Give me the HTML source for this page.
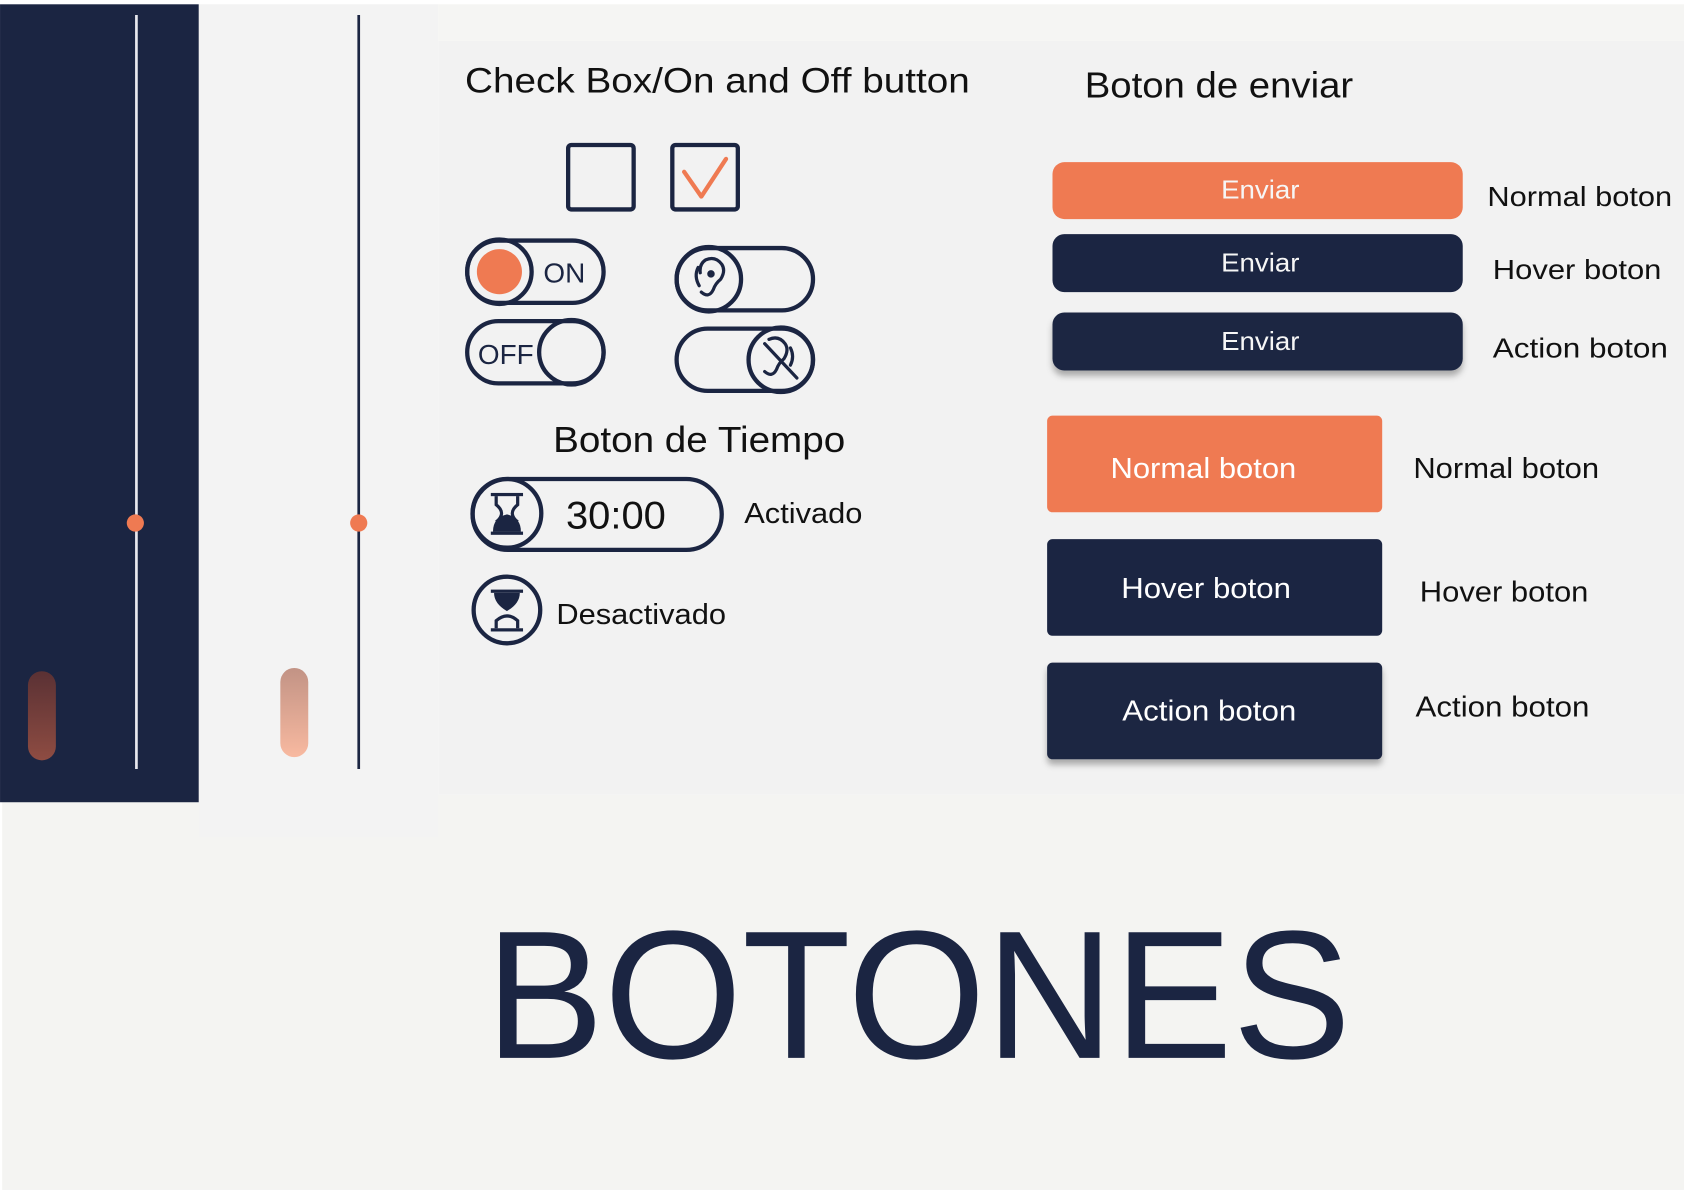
<!DOCTYPE html>
<html><head><meta charset="utf-8"><style>
html,body{margin:0;padding:0;background:#fff;width:1684px;height:1191px;overflow:hidden}
svg{display:block}
text{font-family:"Liberation Sans","DejaVu Sans",sans-serif}
</style></head><body>
<svg width="1684" height="1191" viewBox="0 0 1568 1109" xmlns="http://www.w3.org/2000/svg">
<defs>
<linearGradient id="g1" x1="0" y1="0" x2="0" y2="1"><stop offset="0" stop-color="#5a3134"/><stop offset="1" stop-color="#8e4c42"/></linearGradient>
<linearGradient id="g2" x1="0" y1="0" x2="0" y2="1"><stop offset="0" stop-color="#c29385"/><stop offset="1" stop-color="#f8b9a0"/></linearGradient>
<filter id="sh" x="-10%" y="-20%" width="120%" height="160%"><feDropShadow dx="0" dy="5" stdDeviation="3" flood-color="#000" flood-opacity="0.3"/></filter>
</defs>
<rect width="1568" height="1109" fill="#fff"/>
<rect x="2" y="740" width="1566" height="368" fill="#f4f4f2"/>
<rect x="185" y="4" width="223" height="776" fill="#f3f3f3"/>
<rect x="408" y="4" width="1160" height="34" fill="#f5f5f3"/>
<rect x="408" y="38" width="1160" height="702" fill="#f2f2f2"/>
<rect x="0" y="4" width="185" height="743" fill="#1b2542"/>
<line x1="127" y1="14" x2="127" y2="716" stroke="#e8e8ee" stroke-width="2.5"/>
<circle cx="126" cy="487" r="8" fill="#ef7a52"/>
<rect x="26" y="625" width="26" height="83" rx="13" fill="url(#g1)"/>
<line x1="334" y1="14" x2="334" y2="716" stroke="#1b2542" stroke-width="2.5"/>
<circle cx="334" cy="487" r="8" fill="#ef7a52"/>
<rect x="261" y="622" width="26" height="83" rx="13" fill="url(#g2)"/>
<text x="433" y="86" font-size="33" fill="#111" textLength="470" lengthAdjust="spacingAndGlyphs">Check Box/On and Off button</text>
<text x="1010" y="91" font-size="34" fill="#111" textLength="250" lengthAdjust="spacingAndGlyphs">Boton de enviar</text>
<rect x="529" y="135" width="61" height="60" rx="3" fill="none" stroke="#1b2542" stroke-width="4"/>
<rect x="626" y="135" width="61" height="60" rx="3" fill="none" stroke="#1b2542" stroke-width="4"/>
<path d="M637 160 L653 183 L676 148" fill="none" stroke="#ef7a52" stroke-width="4" stroke-linecap="round" stroke-linejoin="round"/>
<g fill="none" stroke="#1b2542" stroke-width="4">
<rect x="435" y="224" width="127" height="58" rx="29"/>
<circle cx="465" cy="253" r="30"/>
<rect x="435" y="299" width="127" height="58" rx="29"/>
<circle cx="532" cy="328" r="30"/>
<rect x="630" y="231" width="127" height="58" rx="29"/>
<circle cx="660" cy="260" r="30"/>
<rect x="630" y="306" width="127" height="58" rx="29"/>
<circle cx="727" cy="335" r="30"/>
</g>
<circle cx="465" cy="253" r="21" fill="#ef7a52"/>
<text x="506" y="263" font-size="26" fill="#1b2542">ON</text>
<text x="445" y="339" font-size="26" fill="#1b2542">OFF</text>
<g fill="none" stroke="#1b2542" stroke-width="3" stroke-linecap="round">
<path d="M653 272 Q660 278 664 270 Q666 264 671 260 Q676 252 672 246 Q666 238 657 242 Q651 246 652 254"/>
<path d="M650 249 Q646 257 651 266"/>
<path d="M712 346 Q719 352 723 344 Q725 338 730 334 Q735 326 731 320 Q725 312 716 316"/>
<path d="M736 324 Q740 332 736 340"/>
<line x1="712" y1="320" x2="742" y2="352"/>
</g>
<circle cx="662" cy="255" r="3.5" fill="#1b2542"/>
<text x="515" y="421" font-size="34" fill="#111" textLength="272" lengthAdjust="spacingAndGlyphs">Boton de Tiempo</text>
<g fill="none" stroke="#1b2542" stroke-width="4">
<rect x="440" y="446" width="232" height="66" rx="33"/>
<circle cx="472" cy="478" r="32"/>
<circle cx="472" cy="568" r="31"/>
</g>
<g fill="#1b2542">
<rect x="457" y="459" width="30" height="3"/><rect x="457" y="495" width="30" height="3"/>
<path d="M462 462 L462 470 Q472 478 462 486" fill="none" stroke="#1b2542" stroke-width="3"/>
<path d="M482 462 L482 470 Q472 478 482 486" fill="none" stroke="#1b2542" stroke-width="3"/>
<path d="M459 495 Q459 482 472 479 Q485 482 485 495Z"/>
<rect x="457" y="549" width="30" height="3"/><rect x="457" y="585" width="30" height="3"/>
<path d="M460 552 L484 552 Q484 562 472 569 Q460 562 460 552Z"/>
<path d="M462 585 L462 578 Q472 569 482 578 L482 585" fill="none" stroke="#1b2542" stroke-width="3"/>
</g>
<text x="527" y="492" font-size="36" fill="#111" textLength="93" lengthAdjust="spacingAndGlyphs">30:00</text>
<text x="693" y="487" font-size="27" fill="#111" textLength="110" lengthAdjust="spacingAndGlyphs">Activado</text>
<text x="518" y="581" font-size="27" fill="#111" textLength="158" lengthAdjust="spacingAndGlyphs">Desactivado</text>
<rect x="980" y="151" width="382" height="53" rx="11" fill="#ef7a52"/>
<rect x="980" y="218" width="382" height="54" rx="11" fill="#1b2542"/>
<rect x="980" y="291" width="382" height="54" rx="11" fill="#1b2542" filter="url(#sh)"/>
<g font-size="24" fill="#f6f6f6">
<text x="1137" y="185" textLength="73" lengthAdjust="spacingAndGlyphs">Enviar</text>
<text x="1137" y="253" textLength="73" lengthAdjust="spacingAndGlyphs">Enviar</text>
<text x="1137" y="326" textLength="73" lengthAdjust="spacingAndGlyphs">Enviar</text>
</g>
<g font-size="26" fill="#111">
<text x="1385" y="192" textLength="172" lengthAdjust="spacingAndGlyphs">Normal boton</text>
<text x="1390" y="260" textLength="157" lengthAdjust="spacingAndGlyphs">Hover boton</text>
<text x="1390" y="333" textLength="163" lengthAdjust="spacingAndGlyphs">Action boton</text>
</g>
<rect x="975" y="387" width="312" height="90" rx="5" fill="#ef7a52"/>
<rect x="975" y="502" width="312" height="90" rx="5" fill="#1b2542"/>
<rect x="975" y="617" width="312" height="90" rx="5" fill="#1b2542" filter="url(#sh)"/>
<g font-size="27" fill="#fff">
<text x="1034" y="445" textLength="173" lengthAdjust="spacingAndGlyphs">Normal boton</text>
<text x="1044" y="557" textLength="158" lengthAdjust="spacingAndGlyphs">Hover boton</text>
<text x="1045" y="671" textLength="162" lengthAdjust="spacingAndGlyphs">Action boton</text>
</g>
<g font-size="27" fill="#111">
<text x="1316" y="445" textLength="173" lengthAdjust="spacingAndGlyphs">Normal boton</text>
<text x="1322" y="560" textLength="157" lengthAdjust="spacingAndGlyphs">Hover boton</text>
<text x="1318" y="667" textLength="162" lengthAdjust="spacingAndGlyphs">Action boton</text>
</g>
<text x="452" y="985" font-size="170" fill="#1b2542" textLength="806" lengthAdjust="spacingAndGlyphs">BOTONES</text>
</svg>
</body></html>
